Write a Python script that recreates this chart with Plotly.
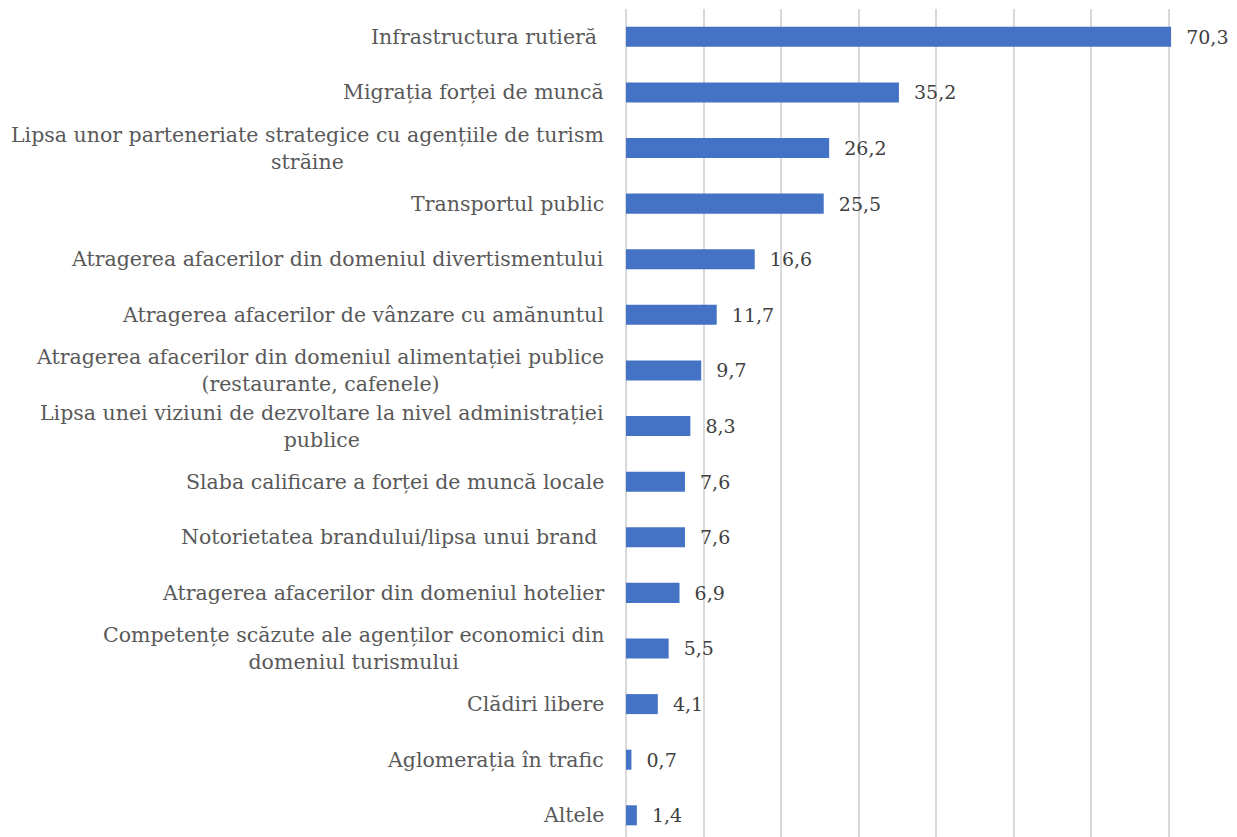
import plotly.graph_objects as go

categories = [
    "Infrastructura rutieră ",
    "Migrația forței de muncă",
    "Lipsa unor parteneriate strategice cu agențiile de turism<br>străine",
    "Transportul public",
    "Atragerea afacerilor din domeniul divertismentului",
    "Atragerea afacerilor de vânzare cu amănuntul",
    "Atragerea afacerilor din domeniul alimentației publice<br>(restaurante, cafenele)",
    "Lipsa unei viziuni de dezvoltare la nivel administrației<br>publice",
    "Slaba calificare a forței de muncă locale",
    "Notorietatea brandului/lipsa unui brand ",
    "Atragerea afacerilor din domeniul hotelier",
    "Competențe scăzute ale agenților economici din<br>domeniul turismului",
    "Clădiri libere",
    "Aglomerația în trafic",
    "Altele",
]
values = [70.3, 35.2, 26.2, 25.5, 16.6, 11.7, 9.7, 8.3, 7.6, 7.6, 6.9, 5.5, 4.1, 0.7, 1.4]
value_labels = [f"{v:.1f}".replace(".", ",") for v in values]

font_family = "DejaVu Serif"

fig = go.Figure()

fig.add_trace(go.Bar(
    x=values,
    y=categories,
    orientation='h',
    marker=dict(color='#4472C4', line=dict(width=0)),
    text=["  " + t for t in value_labels],
    textposition='outside',
    constraintext='none',
    textfont=dict(family=font_family, size=19, color='#404040'),
    cliponaxis=False,
))

# category labels as annotations so wrapped lines are centred like in Excel
for cat in categories:
    fig.add_annotation(
        x=0, xref='paper', xanchor='right', xshift=-20,
        y=cat, yref='y', yanchor='middle',
        text=cat.replace(" ", "\u00a0") if cat.endswith(" ") else cat,
        align='center',
        showarrow=False,
        font=dict(family=font_family, size=20.5, color='#595959'),
    )

# page body has an 8px margin, so the figure is shrunk by that much
fig.update_layout(
    width=1229,
    height=829,
    margin=dict(l=618, r=0, t=1, b=0, autoexpand=False),
    plot_bgcolor='white',
    paper_bgcolor='white',
    bargap=0.64,
    showlegend=False,
    font=dict(family=font_family, size=20, color='#595959'),
    xaxis=dict(
        range=[0, 78.8],
        automargin=False,
        showgrid=True,
        gridcolor='#d9d9d9',
        gridwidth=2,
        showticklabels=False,
        zeroline=True,
        zerolinecolor='#d9d9d9',
        zerolinewidth=2,
        dtick=10,
    ),
    yaxis=dict(
        type='category',
        range=[14.39, -0.5],
        automargin=False,
        showgrid=False,
        ticks='',
        showticklabels=False,
    ),
)

fig.write_html("out.html")
